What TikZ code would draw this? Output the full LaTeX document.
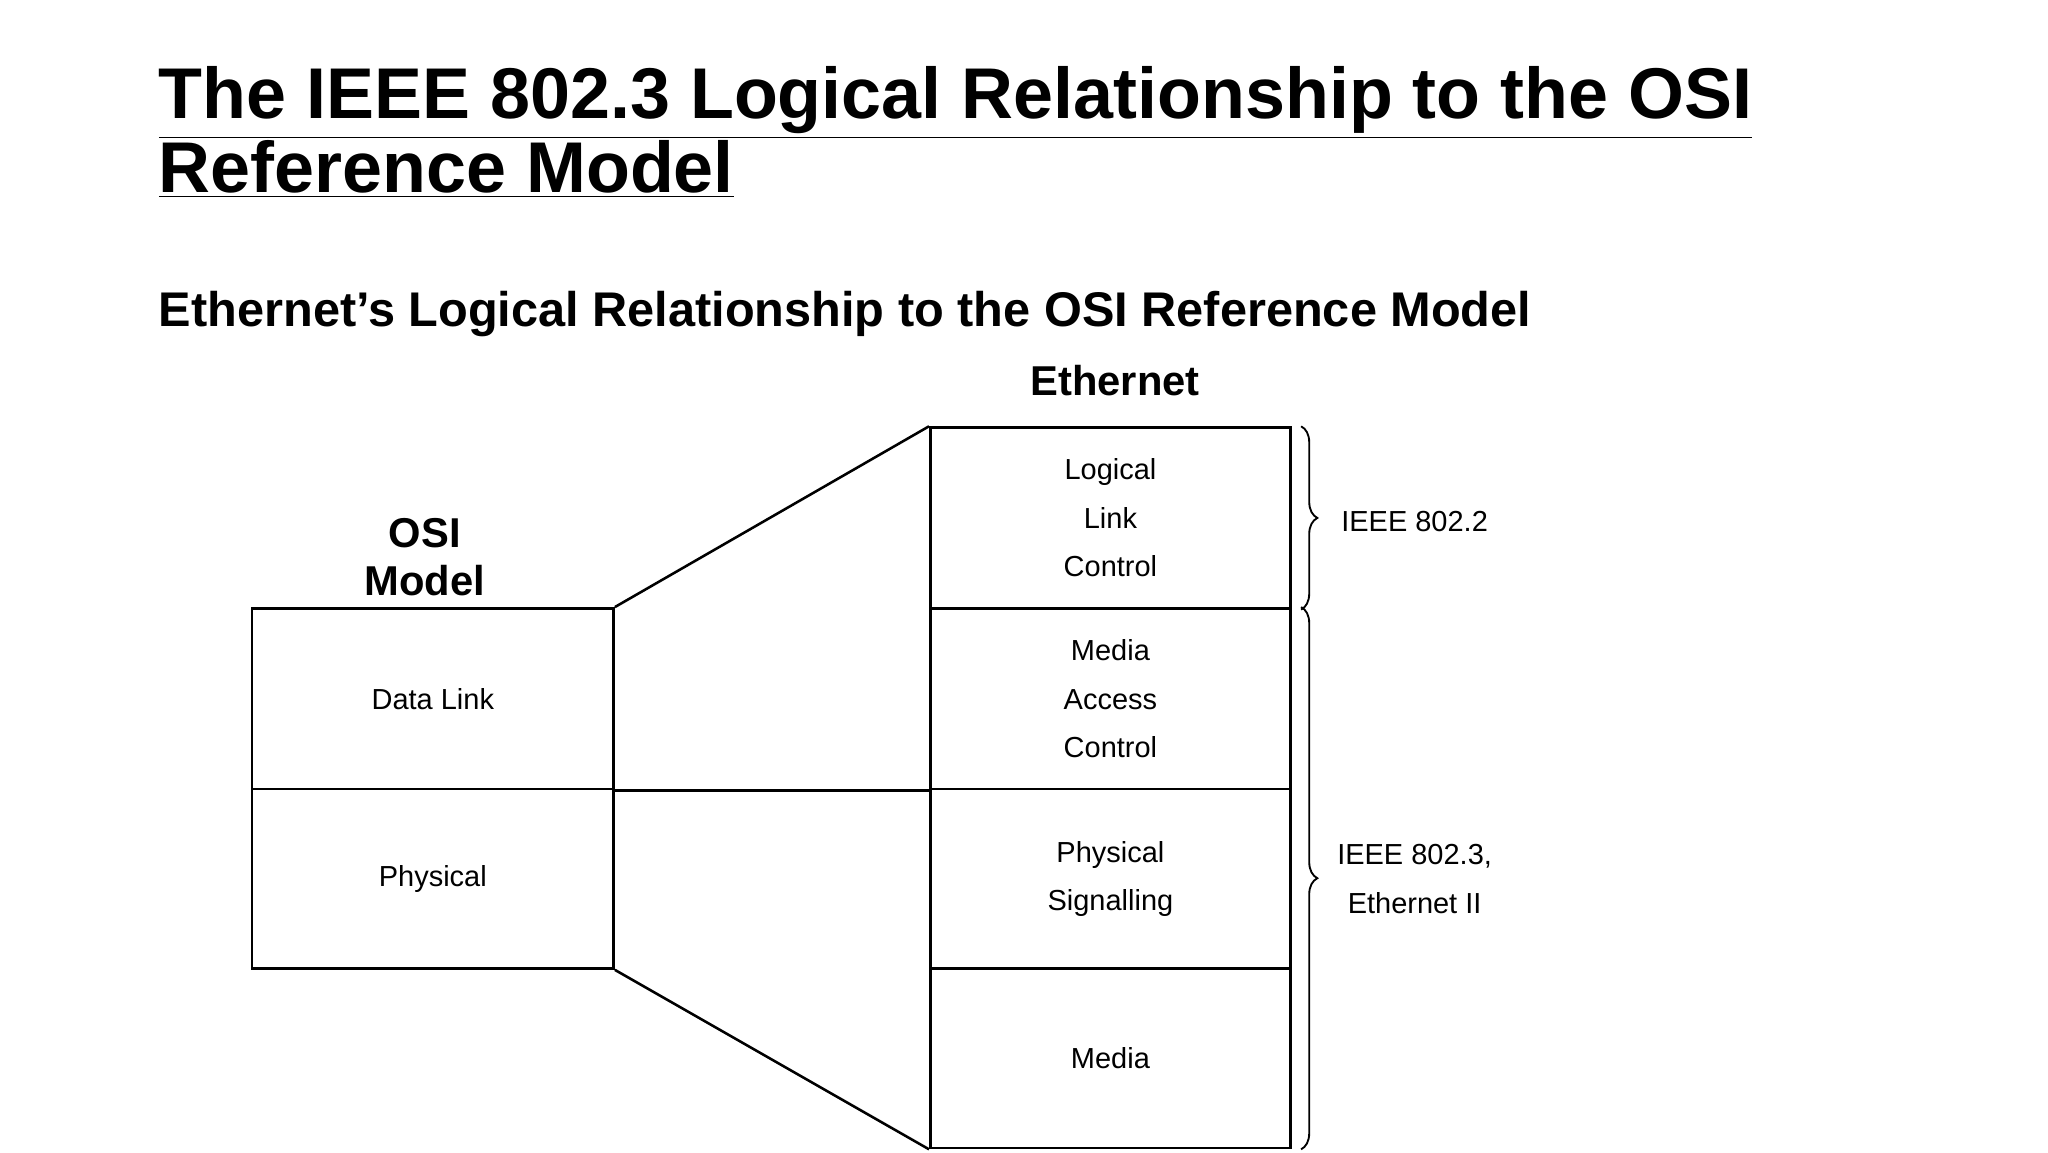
\documentclass[tikz,border=0pt]{standalone}
\usepackage{fontspec}
\setmainfont{Liberation Sans}
\usetikzlibrary{decorations.pathreplacing}
\begin{document}
\begin{tikzpicture}[x=0.02cm,y=-0.02cm,
  lay/.style={font=\fontsize{12.5}{21}\selectfont,align=center},
  hd/.style={font=\fontsize{18}{21}\selectfont\bfseries,align=center},
  bx/.style={draw,line width=1.1pt},
  br/.style={decorate,decoration={brace,amplitude=7pt},line width=0.8pt}]
\useasboundingbox (0,0) rectangle (1552,873);
\node[anchor=north west,align=left,font=\fontsize{31}{31}\selectfont\bfseries,inner sep=0] (title) at (120,50)
 {\underline{The IEEE 802.3 Logical Relationship to the OSI}\\\underline{Reference Model}};
\node[anchor=west,font=\fontsize{21}{25}\selectfont\bfseries,inner sep=0] (sub) at (120,238)
 {Ethernet’s Logical Relationship to the OSI Reference Model};
% OSI
\node[bx,minimum width=274*0.02cm,minimum height=137*0.02cm,lay] (dl) at (328,529.5) {Data Link};
\node[bx,minimum width=274*0.02cm,minimum height=136*0.02cm,lay] (ph) at (328,666) {Physical};
\node[hd,anchor=south] (osi) at (322,458) {OSI\\Model};
% Ethernet
\node[bx,minimum width=273*0.02cm,minimum height=137*0.02cm,lay] (llc) at (841.5,392.5) {Logical\\Link\\Control};
\node[bx,minimum width=273*0.02cm,minimum height=137*0.02cm,lay] (mac) at (841.5,529.5) {Media\\Access\\Control};
\node[bx,minimum width=273*0.02cm,minimum height=136*0.02cm,lay] (ps) at (841.5,666) {Physical\\Signalling};
\node[bx,minimum width=273*0.02cm,minimum height=136*0.02cm,lay] (med) at (841.5,802) {Media};
\node[hd,anchor=south] (eth) at (845,306) {Ethernet};
% connectors
\draw[line width=1.1pt] (dl.north east) -- (llc.north west);
\draw[line width=1.1pt] (dl.south east) -- (mac.south west);
\draw[line width=1.1pt] (ph.south east) -- (med.south west);
% braces
\draw[br] ([xshift=4pt]llc.north east) -- coordinate[xshift=9pt] (b1) ([xshift=4pt]llc.south east);
\draw[br] ([xshift=4pt]mac.north east) -- coordinate[xshift=9pt] (b2) ([xshift=4pt]med.south east);
\node[lay,anchor=center] (l1) at (1072,395) {IEEE 802.2};
\node[lay,anchor=center] (l2) at (1072,666) {IEEE 802.3,\\Ethernet II};
\end{tikzpicture}
\end{document}
